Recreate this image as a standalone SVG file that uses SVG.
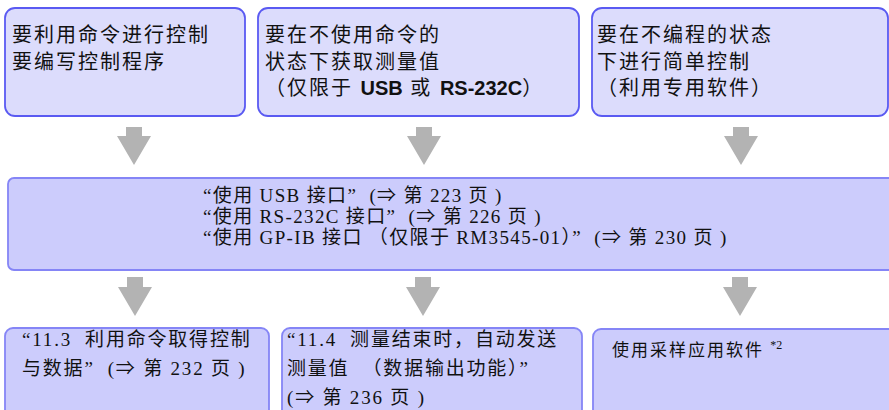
<svg xmlns="http://www.w3.org/2000/svg" width="889" height="410" viewBox="0 0 889 410">
<style>
.top{fill:#dcdcfc;stroke:#5a5af2;stroke-width:1.8}
.mid{fill:#ccccfc;stroke:#8585f6;stroke-width:1.8}
.bot{fill:#ccccfc;stroke:#8585f6;stroke-width:1.8}
.arr{fill:#b3b3b3}
.ts{font-family:"Liberation Sans","Noto Sans CJK SC",sans-serif;font-size:20px;letter-spacing:2px;fill:#111}
.ts .b{font-weight:bold;letter-spacing:0}
.sr{font-family:"Liberation Serif","Noto Sans CJK SC",serif;font-size:19px;letter-spacing:1.35px;fill:#111;white-space:pre}
.sb{font-family:"Liberation Serif","Noto Sans CJK SC",serif;font-size:19px;letter-spacing:1.8px;fill:#111;white-space:pre}
.s3{font-family:"Liberation Serif","Noto Sans CJK SC",serif;font-size:17px;letter-spacing:2px;fill:#111}
</style>
<g id="box-top1">
<rect class="top" x="5" y="8" width="240" height="108" rx="10"/>
<text class="ts" x="12" y="41.5">要利用命令进行控制</text>
<text class="ts" x="12" y="68.5">要编写控制程序</text>
</g>
<g id="box-top2">
<rect class="top" x="258" y="8" width="321" height="108" rx="10"/>
<text class="ts" x="265" y="41.5">要在不使用命令的</text>
<text class="ts" x="265" y="68.5">状态下获取测量值</text>
<text class="ts" x="265" y="95">（仅限于 <tspan class="b">USB</tspan> 或 <tspan class="b">RS-232C</tspan>）</text>
</g>
<g id="box-top3">
<rect class="top" x="592" y="8" width="296" height="108" rx="10"/>
<text class="ts" x="597" y="41.5">要在不编程的状态</text>
<text class="ts" x="597" y="68.5">下进行简单控制</text>
<text class="ts" x="597" y="95">（利用专用软件）</text>
</g>
<g id="box-interfaces">
<rect class="mid" x="8" y="178" width="900" height="92" rx="6"/>
<text class="sr" x="203" y="202">“使用 USB 接口”  (⇒ 第 223 页 )</text>
<text class="sr" x="203" y="223">“使用 RS-232C 接口”  (⇒ 第 226 页 )</text>
<text class="sr" x="203" y="244">“使用 GP-IB 接口 （仅限于 RM3545-01）”  (⇒ 第 230 页 )</text>
</g>
<g id="box-bot1">
<rect class="bot" x="5" y="328" width="264" height="100" rx="8"/>
<text class="sb" x="22" y="346">“11.3  利用命令取得控制</text>
<text class="sb" x="22" y="375">与数据”  (⇒ 第 232 页 )</text>
</g>
<g id="box-bot2">
<rect class="bot" x="282" y="328" width="300" height="100" rx="8"/>
<text class="sb" x="287" y="346">“11.4  测量结束时，自动发送</text>
<text class="sb" x="287" y="375">测量值  （数据输出功能）”</text>
<text class="sb" x="287" y="404">(⇒ 第 236 页 )</text>
</g>
<g id="box-bot3">
<rect class="bot" x="593" y="329" width="320" height="100" rx="8"/>
<text class="s3" x="612" y="356">使用采样应用软件 <tspan font-size="12" dy="-7" letter-spacing="0">*2</tspan></text>
</g>
<g id="connectors">
<polygon class="arr" points="126,127 142,127 142,136 151,136 134,165 117,136 126,136"/>
<polygon class="arr" points="416,127 432,127 432,136 441,136 424,165 407,136 416,136"/>
<polygon class="arr" points="733,127 749,127 749,136 758,136 741,165 724,136 733,136"/>
<polygon class="arr" points="127,277 143,277 143,287 152,287 135,316 118,287 127,287"/>
<polygon class="arr" points="415,277 431,277 431,287 440,287 423,316 406,287 415,287"/>
<polygon class="arr" points="732,277 748,277 748,287 757,287 740,316 723,287 732,287"/>
</g>
</svg>
